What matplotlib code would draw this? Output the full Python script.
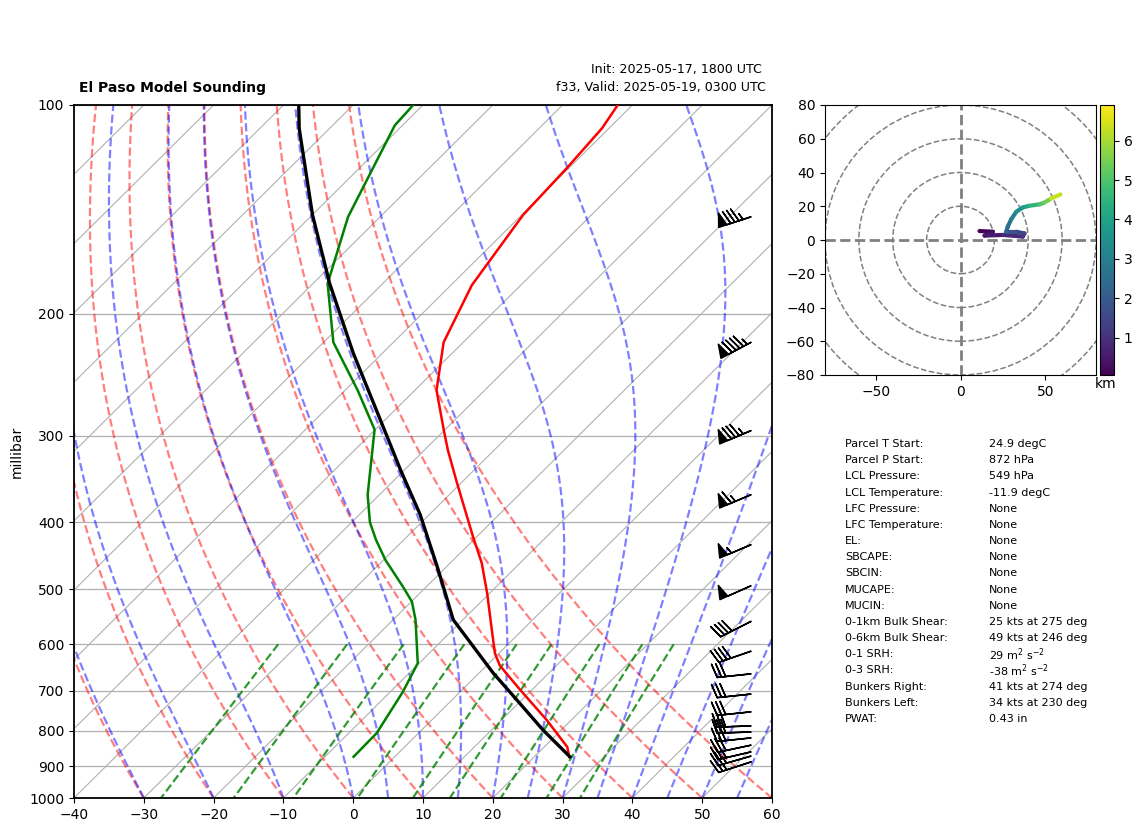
import numpy as np
import matplotlib
matplotlib.use('Agg')
import matplotlib.pyplot as plt
from matplotlib.transforms import Affine2D
from matplotlib.collections import LineCollection
from matplotlib.colors import Normalize
from matplotlib.cm import ScalarMappable
from matplotlib.ticker import FixedLocator, NullLocator, FixedFormatter

# ---- data ----
temp_p = [872, 844, 772, 698, 658, 643, 618, 585, 506, 458, 420, 351, 315, 294, 258, 220, 182, 144, 123, 108, 100]
temp_t = [25.0, 23.3, 16.5, 8.3, 3.6, 1.8, -0.6, -3.3, -10.4, -15.5, -20.5, -30.6, -36.6, -40.2, -46.9, -52.8, -57.0, -59.8, -60.3, -61.0, -62.1]
dew_p = [872, 806, 703, 639, 553, 521, 496, 453, 424, 400, 365, 294, 258, 220, 181, 145, 107, 100]
dew_t = [-5.9, -6.0, -8.2, -10.2, -16.8, -19.9, -23.3, -29.8, -34.0, -37.4, -41.7, -50.1, -58.2, -68.6, -77.9, -84.6, -91.1, -91.4]
parcel_p = [872, 798, 722, 660, 553, 506, 464, 390, 336, 313, 228, 181, 144, 108, 100]
parcel_t = [25.1, 17.4, 9.3, 2.0, -11.4, -16.4, -21.3, -31.3, -40.6, -44.9, -64.2, -77.6, -90.0, -104.4, -107.8]
barb_p = [145, 220, 295, 365, 431, 494, 556, 614, 662, 708, 751, 787, 803, 819, 839, 858, 870, 887]
barb_spd = [85, 95, 85, 65, 55, 50, 40, 40, 30, 30, 30, 30, 30, 30, 30, 25, 25, 25]
barb_dir = [252, 242, 247, 247, 247, 246, 243, 251, 264, 264, 264, 268, 268, 264, 258, 257, 254, 252]
hodo_u = [11.2, 19.1, 14.2, 25.0, 36.8, 37.8, 32.9, 27.0, 27.9, 29.9, 32.9, 36.8, 40.7, 46.6, 49.6, 53.5, 59.0]
hodo_v = [5.3, 4.9, 2.6, 3.0, 2.0, 3.9, 4.9, 4.9, 7.9, 12.2, 16.7, 19.3, 20.3, 21.1, 22.2, 24.6, 27.0]
hodo_h = [0.06, 0.2, 0.35, 0.7, 1.0, 1.3, 1.6, 2.0, 2.4, 2.8, 3.2, 3.7, 4.2, 4.8, 5.2, 5.7, 6.9]
table_labels = ['Parcel T Start:', 'Parcel P Start:', 'LCL Pressure:', 'LCL Temperature:', 'LFC Pressure:',
                'LFC Temperature:', 'EL:', 'SBCAPE:', 'SBCIN:', 'MUCAPE:', 'MUCIN:', '0-1km Bulk Shear:',
                '0-6km Bulk Shear:', '0-1 SRH:', '0-3 SRH:', 'Bunkers Right:', 'Bunkers Left:', 'PWAT:']
table_values = ['24.9 degC', '872 hPa', '549 hPa', '-11.9 degC', 'None', 'None', 'None', 'None', 'None', 'None',
                'None', '25 kts at 275 deg', '49 kts at 246 deg', r'29 m$^2$ s$^{-2}$', r'-38 m$^2$ s$^{-2}$',
                '41 kts at 274 deg', '34 kts at 230 deg', '0.43 in']
t_ticks = list(range(-40, 61, 10))
p_ticks = [100, 200, 300, 400, 500, 600, 700, 800, 900, 1000]
dry_t0 = np.arange(-40, 61, 10)
moist_t0 = np.concatenate((np.arange(-40, 0, 10), np.arange(0, 61, 5)))
mix_w = [0.0004, 0.001, 0.002, 0.004, 0.007, 0.01, 0.016, 0.024, 0.032]
iso_t = np.arange(-130, 61, 10)

W, H = 1142, 832
fig = plt.figure(figsize=(W / 100, H / 100), dpi=100)


def box(x0, y0, x1, y1):
    return [x0 / W, 1 - y1 / H, (x1 - x0) / W, (y1 - y0) / H]


ax = fig.add_axes(box(74, 105, 772, 798))
ax.set_yscale('log')
ax.set_xlim(-40, 60)
ax.set_ylim(1000, 100)
skew = Affine2D(np.array([[1, 1.0, 0], [0, 1, 0], [0, 0, 1.0]]))
tr = ax.transScale + ax.transLimits + skew + ax.transAxes

plevs = np.linspace(1000, 100, 181)
# isotherm grid and pressure grid
for t in iso_t:
    ax.plot([t, t], [1000, 100], transform=tr, color='#b0b0b0', lw=0.8, zorder=1)
ax.yaxis.set_major_locator(FixedLocator(p_ticks))
ax.yaxis.set_major_formatter(FixedFormatter([str(p) for p in p_ticks]))
ax.yaxis.set_minor_locator(NullLocator())
ax.set_xticks(t_ticks)
ax.grid(True, axis='y', color='#b0b0b0', lw=0.9, zorder=1)
ax.set_axisbelow(True)
ax.set_ylabel('millibar', fontsize=10)

# dry adiabats
for t0 in dry_t0:
    ax.plot((t0 + 273.15) * (plevs / 1000) ** 0.2857 - 273.15, plevs, transform=tr,
            color='r', ls='--', lw=1.6, alpha=0.5, zorder=2)


# moist adiabats
def es(tc):
    return 6.112 * np.exp(17.67 * tc / (tc + 243.5))


def dtdlnp(T, p):
    Rd, Cp, Lv, eps = 287.04, 1005.7, 2.501e6, 0.622
    e = es(T - 273.15)
    rs = eps * e / (p - e)
    return (Rd * T + Lv * rs) / (Cp + Lv ** 2 * rs * eps / (Rd * T ** 2))


for t0 in moist_t0:
    T = t0 + 273.15
    out = [T]
    for p0, p1 in zip(plevs[:-1], plevs[1:]):
        dl = np.log(p1 / p0)
        k1 = dtdlnp(T, p0)
        pm = p0 * np.exp(dl / 2)
        k2 = dtdlnp(T + k1 * dl / 2, pm)
        k3 = dtdlnp(T + k2 * dl / 2, pm)
        k4 = dtdlnp(T + k3 * dl, p1)
        T = T + dl * (k1 + 2 * k2 + 2 * k3 + k4) / 6
        out.append(T)
    ax.plot(np.array(out) - 273.15, plevs, transform=tr, color='b', ls='--', lw=1.6, alpha=0.5, zorder=2)

# mixing ratio lines
pmix = np.linspace(600, 1000, 50)
for w in mix_w:
    e = pmix * w / (0.622 + w)
    ln = np.log(e / 6.112)
    td = 243.5 * ln / (17.67 - ln)
    ax.plot(td, pmix, transform=tr, color='g', ls='--', lw=1.6, alpha=0.8, zorder=2)

ax.plot(temp_t, temp_p, transform=tr, color='r', lw=1.8, zorder=4)
ax.plot(dew_t, dew_p, transform=tr, color='g', lw=1.8, zorder=4)
ax.plot(parcel_t, parcel_p, transform=tr, color='k', lw=2.4, zorder=5)

# wind barbs
spd = np.array(barb_spd, float)
rad = np.deg2rad(barb_dir)
ax.barbs(np.full(len(barb_p), 0.97), barb_p, -spd * np.sin(rad), -spd * np.cos(rad),
         transform=ax.get_yaxis_transform(), clip_on=False, zorder=6, length=7, linewidth=1.1)
ax.set_xlim(-40, 60)
ax.set_ylim(1000, 100)
for s in ax.spines.values():
    s.set_linewidth(1.3)

fig.text(79 / W, 1 - 88 / H, 'El Paso Model Sounding', fontsize=10, fontweight='bold', ha='left', va='center')
fig.text(762 / W, 1 - 70 / H, 'Init: 2025-05-17, 1800 UTC', fontsize=9.05, ha='right', va='center')
fig.text(766 / W, 1 - 88 / H, 'f33, Valid: 2025-05-19, 0300 UTC', fontsize=9.1, ha='right', va='center')

# hodograph
hx = fig.add_axes(box(825, 105, 1096, 375))
hx.set_xlim(-80, 80)
hx.set_ylim(-80, 80)
hx.set_xticks([-50, 0, 50])
hx.set_yticks(range(-80, 81, 20))
for r in [20, 40, 60, 80, 100]:
    hx.add_patch(plt.Circle((0, 0), r, fill=False, ec='gray', ls='--', lw=1.1))
hx.axhline(0, color='gray', ls='--', lw=2)
hx.axvline(0, color='gray', ls='--', lw=2)
pts = np.column_stack([hodo_u, hodo_v])
segs = np.stack([pts[:-1], pts[1:]], axis=1)
norm = Normalize(0.06, 6.9)
lc = LineCollection(segs, cmap='viridis', norm=norm, lw=3, capstyle='round')
lc.set_array((np.array(hodo_h[:-1]) + np.array(hodo_h[1:])) / 2)
hx.add_collection(lc)

cax = fig.add_axes(box(1100, 105, 1114, 375))
cb = fig.colorbar(ScalarMappable(norm=norm, cmap='viridis'), cax=cax)
cb.set_ticks([1, 2, 3, 4, 5, 6])
fig.text(1106 / W, 1 - 384 / H, 'km', fontsize=10, ha='center', va='center')

# table
ys = np.linspace(444, 719, len(table_labels))
for y, a, b in zip(ys, table_labels, table_values):
    fig.text(845 / W, 1 - y / H, a, fontsize=8, ha='left', va='center')
    fig.text(989 / W, 1 - y / H, b, fontsize=8, ha='left', va='center')

fig.savefig('out.png', dpi=100)
